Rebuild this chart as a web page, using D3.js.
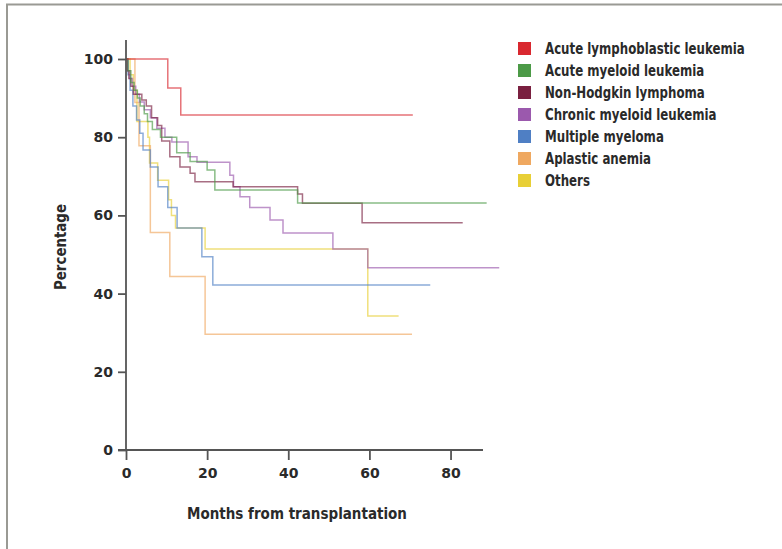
<!DOCTYPE html>
<html>
<head>
<meta charset="utf-8">
<script src="https://cdn.jsdelivr.net/npm/d3@7"></script>
<style>
body{margin:0;background:#fff;}
text{font-family:"DejaVu Sans",sans-serif;font-weight:bold;fill:#2a2a2a;}
</style>
</head>
<body>
<svg width="782" height="549"></svg>
<script>
const svg = d3.select('svg');
const width = +svg.attr('width');
const height = +svg.attr('height');

// survival curves: [month, percentage], last point = end of follow-up
const all = [[0,100],[10.3,92.6],[13.5,85.7],[70.7,85.7]];
const aml = [[0,100],[0.5,97],[1.2,94],[2,92],[2.8,90],[3.5,88],[4.5,86],[5.3,84],[6.5,82],[8.5,80],[12.5,76],[15.8,73.8],[20,71.6],[21.9,66.5],[42.3,63.2],[88.9,63.2]];
const nhl = [[0,100],[0.3,97],[0.7,95],[1.2,93],[1.8,91],[3.9,89.5],[5,88],[6.3,85],[7.8,83],[8.8,79],[10.8,75],[13.3,72.4],[15.8,70.8],[17,68.6],[26.4,67.3],[42.3,65.5],[43.5,63.1],[58.2,58.1],[83,58.1]];
const cml = [[0,100],[0.4,97],[1,95],[1.6,93],[2.4,91],[3.3,89],[4.5,87],[6,85],[7.6,82.3],[9.6,80],[11.3,78.8],[15.3,75],[17.5,73.6],[25.6,70.3],[26.5,67.3],[28.1,64.8],[30.5,62],[35.5,58.8],[38.7,55.5],[51,51.4],[59.6,46.6],[92,46.6]];
const mm = [[0,100],[0.5,96],[1,92],[1.7,88],[2.6,84.4],[3.4,81],[4.2,76.7],[6,72.4],[7.9,67.3],[10.3,62],[12.6,56.8],[18.7,49.4],[21.4,42.2],[75,42.2]];
const aa = [[0,100],[2.2,88.9],[3.2,77.8],[6,55.6],[10.8,44.4],[19.5,29.6],[70.5,29.6]];
const others = [[0,100],[1,96],[1.8,92],[2.7,84],[5.4,80],[5.8,73.4],[7.8,69],[10.5,64],[11.2,60],[12.2,56.8],[19.5,51.4],[59.6,34.3],[67.2,34.3]];

const names = ['Acute lymphoblastic leukemia','Acute myeloid leukemia','Non-Hodgkin lymphoma','Chronic myeloid leukemia','Multiple myeloma','Aplastic anemia','Others'];
const colors = ['#d9282f','#4c9a47','#7a2040','#9b59ad','#4f7fc4','#efa860','#e8cf36'];
const curves = [all, aml, nhl, cml, mm, aa, others];
const xTicks = [0,20,40,60,80];
const yTicks = [0,20,40,60,80,100];

// frame
svg.append('path')
  .attr('d', `M7,${height} V4.5 H${width}`)
  .attr('fill','none').attr('stroke','#9a9a94').attr('stroke-width',2);

const x = d3.scaleLinear().domain([0,88]).range([126,483]);
const y = d3.scaleLinear().domain([0,100]).range([450,59]);

const line = d3.line().x(d => x(d[0])).y(d => y(d[1])).curve(d3.curveStepAfter);

svg.append('g').selectAll('path').data(curves.slice().reverse())
  .enter().append('path')
  .attr('d', line)
  .attr('fill','none')
  .attr('stroke',(d,i) => colors[curves.length-1-i])
  .attr('stroke-opacity',0.65)
  .attr('stroke-width',1.5);

// axes
const axisColor = '#555';
const yAxis = svg.append('g').attr('transform','translate(126,0)')
  .call(d3.axisLeft(y).tickValues(yTicks).tickSize(8).tickPadding(5));
yAxis.select('.domain').attr('d','M0,40V450');
const xAxis = svg.append('g').attr('transform','translate(0,450)')
  .call(d3.axisBottom(x).tickValues(xTicks).tickSize(10).tickPadding(8));
xAxis.select('.domain').attr('d',`M118,0H${x(88)}`);
[xAxis, yAxis].forEach(a => {
  a.selectAll('.domain,.tick line').attr('stroke',axisColor).attr('stroke-width',1.8);
  a.selectAll('.tick text').attr('font-size',14).attr('font-family',null).attr('fill','#2a2a2a');
});

// squeeze text horizontally to a target length (the original face is condensed)
const squeeze = (t, len, tf) => {
  const k = len / t.node().getComputedTextLength();
  t.attr('transform', `${tf} scale(${k},1)`);
  return k;
};

const xTitle = svg.append('text').attr('text-anchor','middle').attr('font-size',16)
  .text('Months from transplantation');
squeeze(xTitle, 220, 'translate(297,519)');
const yTitle = svg.append('text').attr('text-anchor','middle').attr('font-size',16)
  .text('Percentage');
squeeze(yTitle, 86, 'translate(66,247) rotate(-90)');

// legend
const legend = svg.append('g').attr('transform','translate(518,42)');
const rows = legend.selectAll('g').data(names).enter().append('g')
  .attr('transform',(d,i) => `translate(0,${i*22})`);
rows.append('rect').attr('width',13).attr('height',13).attr('fill',(d,i) => colors[i]);
const labels = rows.append('text').attr('font-size',15).text(d => d);
const k = 200 / labels.node().getComputedTextLength();
labels.attr('transform',`translate(27,12) scale(${k},1)`);
</script>
</body>
</html>
